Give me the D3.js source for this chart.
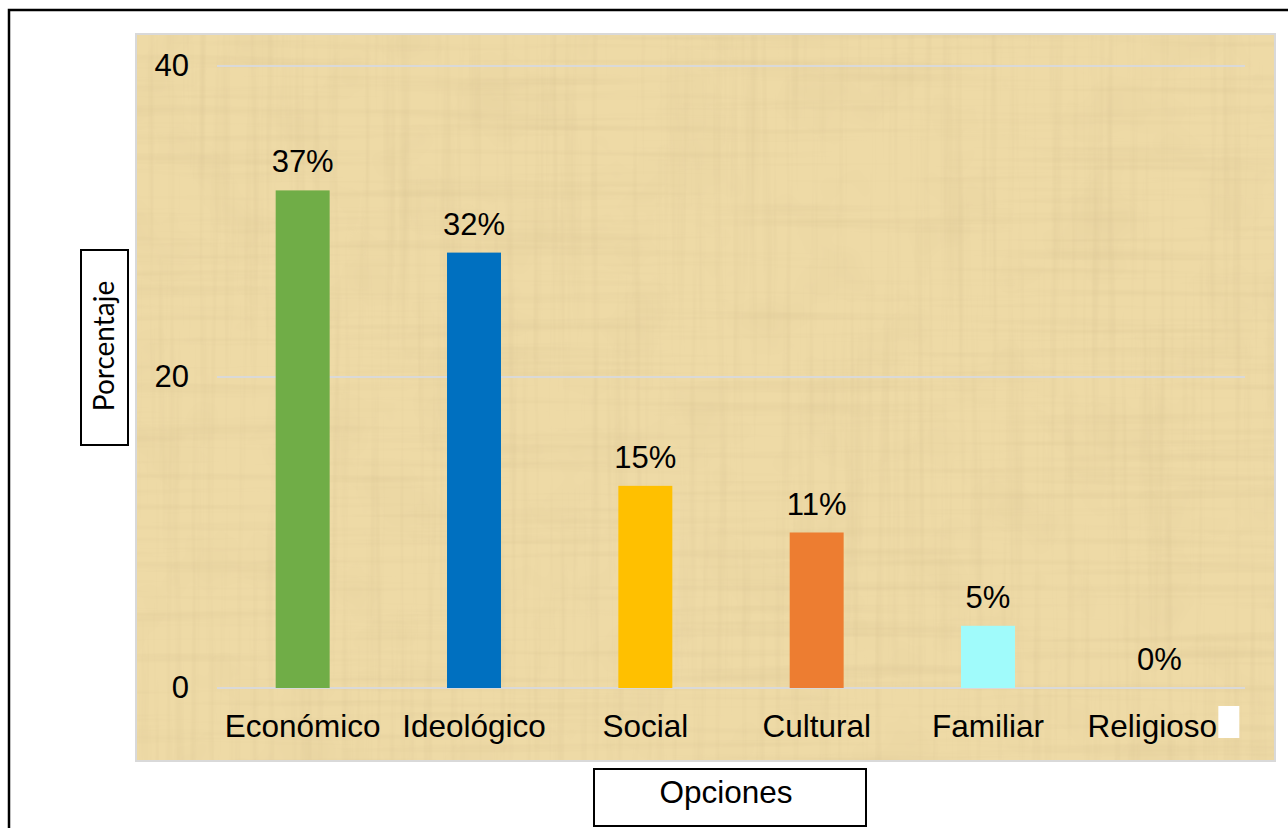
<!DOCTYPE html>
<html>
<head>
<meta charset="utf-8">
<script src="https://cdn.jsdelivr.net/npm/d3@7"></script>
<style>
  html, body { margin: 0; padding: 0; background: #fff; overflow: hidden; }
  svg { display: block; }
</style>
</head>
<body>
<div id="chart"></div>
<script>
// data
const categories = ["Económico", "Ideológico", "Social", "Cultural", "Familiar", "Religioso"];
const counts = [32, 28, 13, 10, 4, 0];
const percentLabels = ["37%", "32%", "15%", "11%", "5%", "0%"];
const barColors = ["#70ad47", "#0070c0", "#ffc000", "#ed7d31", "#a0fbfb", "#ffffff"];
const yTicks = [0, 20, 40];

const W = 1288, H = 828;
const font = "'Liberation Sans', Arial, sans-serif";

const svg = d3.select("#chart").append("svg")
  .attr("width", W)
  .attr("height", H);

const defs = svg.append("defs");

// papyrus-ish fibres: horizontal and vertical streak noise
function fibreFilter(id, freq, seed, op) {
  const f = defs.append("filter").attr("id", id)
    .attr("x", 0).attr("y", 0).attr("width", "100%").attr("height", "100%");
  f.append("feTurbulence")
    .attr("type", "fractalNoise")
    .attr("baseFrequency", freq)
    .attr("numOctaves", 3)
    .attr("seed", seed);
  f.append("feColorMatrix")
    .attr("type", "matrix")
    .attr("values", `0 0 0 0 0.66  0 0 0 0 0.52  0 0 0 0 0.27  ${op} 0 0 0 ${-op * 0.48}`);
}
fibreFilter("fibH", "0.003 0.12", 4, 0.6);
fibreFilter("fibV", "0.12 0.003", 9, 0.6);
fibreFilter("blot", "0.015 0.015", 2, 0.35);

// outer frame (runs off the right / bottom edge)
svg.append("rect")
  .attr("x", 9).attr("y", 10)
  .attr("width", 1300).attr("height", 840)
  .attr("fill", "none")
  .attr("stroke", "#000")
  .attr("stroke-width", 2.5);

// plot area
const area = { x0: 136, y0: 34, x1: 1275, y1: 761 };
const g = svg.append("g");

const bg = g.append("g");
bg.append("rect")
  .attr("x", area.x0).attr("y", area.y0)
  .attr("width", area.x1 - area.x0).attr("height", area.y1 - area.y0)
  .attr("fill", "#eedaa6");
["blot", "fibH", "fibV"].forEach(id => {
  bg.append("rect")
    .attr("x", area.x0).attr("y", area.y0)
    .attr("width", area.x1 - area.x0).attr("height", area.y1 - area.y0)
    .attr("filter", `url(#${id})`);
});
bg.append("rect")
  .attr("x", area.x0).attr("y", area.y0)
  .attr("width", area.x1 - area.x0).attr("height", area.y1 - area.y0)
  .attr("fill", "none")
  .attr("stroke", "#d9d9d9")
  .attr("stroke-width", 2);

// scales
const x = d3.scaleBand()
  .domain(categories)
  .range([217, 1245])
  .paddingInner(0.685)
  .paddingOuter(0.3425);

const y = d3.scaleLinear()
  .domain([0, 40])
  .range([688, 66]);

// gridlines
g.append("g")
  .selectAll("line")
  .data(yTicks)
  .join("line")
  .attr("x1", 217).attr("x2", 1245)
  .attr("y1", d => y(d)).attr("y2", d => y(d))
  .attr("stroke", "#d9d9d9")
  .attr("stroke-width", 2);

// y axis labels
const yAxis = g.append("g")
  .attr("transform", "translate(189,0)")
  .call(d3.axisLeft(y).tickValues(yTicks).tickSize(0).tickPadding(0));
yAxis.select(".domain").remove();
yAxis.selectAll("text")
  .attr("font-family", font)
  .attr("font-size", 31)
  .attr("fill", "#000");

// bars
const rows = categories.map((c, i) => ({ cat: c, v: counts[i], lab: percentLabels[i], col: barColors[i] }));

g.append("g")
  .selectAll("rect")
  .data(rows.filter(d => d.v > 0))
  .join("rect")
  .attr("x", d => x(d.cat))
  .attr("y", d => y(d.v))
  .attr("width", x.bandwidth())
  .attr("height", d => y(0) - y(d.v))
  .attr("fill", d => d.col);

// percent labels
g.append("g")
  .selectAll("text")
  .data(rows)
  .join("text")
  .attr("x", d => x(d.cat) + x.bandwidth() / 2)
  .attr("y", d => y(d.v) - 18)
  .attr("text-anchor", "middle")
  .attr("font-family", font)
  .attr("font-size", 31)
  .attr("fill", "#000")
  .text(d => d.lab);

// category labels
const xAxis = g.append("g")
  .attr("transform", `translate(0,${y(0)})`)
  .call(d3.axisBottom(x).tickSize(0).tickPadding(0));
xAxis.select(".domain").remove();
xAxis.selectAll("text")
  .attr("dy", null)
  .attr("y", 49)
  .attr("dx", d => d === "Religioso" ? -7 : 0)
  .attr("font-family", font)
  .attr("font-size", 31.5)
  .attr("fill", "#000");

// small white key after the last label
const last = categories[categories.length - 1];
g.append("rect")
  .attr("x", x(last) + x.bandwidth() / 2 + 59)
  .attr("y", y(0) + 18)
  .attr("width", 21)
  .attr("height", 32)
  .attr("fill", barColors[barColors.length - 1]);

// axis title boxes
const yt = svg.append("g");
yt.append("rect")
  .attr("x", 81).attr("y", 250)
  .attr("width", 47).attr("height", 195)
  .attr("fill", "#fff")
  .attr("stroke", "#000")
  .attr("stroke-width", 2);
yt.append("text")
  .attr("transform", "translate(114,346) rotate(-90)")
  .attr("text-anchor", "middle")
  .attr("font-family", "Lato, 'Open Sans', sans-serif")
  .attr("font-size", 28)
  .attr("fill", "#000")
  .text("Porcentaje");

const xt = svg.append("g");
xt.append("rect")
  .attr("x", 594).attr("y", 769)
  .attr("width", 272).attr("height", 57)
  .attr("fill", "#fff")
  .attr("stroke", "#000")
  .attr("stroke-width", 2);
xt.append("text")
  .attr("x", 726).attr("y", 803)
  .attr("text-anchor", "middle")
  .attr("font-family", font)
  .attr("font-size", 31.5)
  .attr("fill", "#000")
  .text("Opciones");
</script>
</body>
</html>
